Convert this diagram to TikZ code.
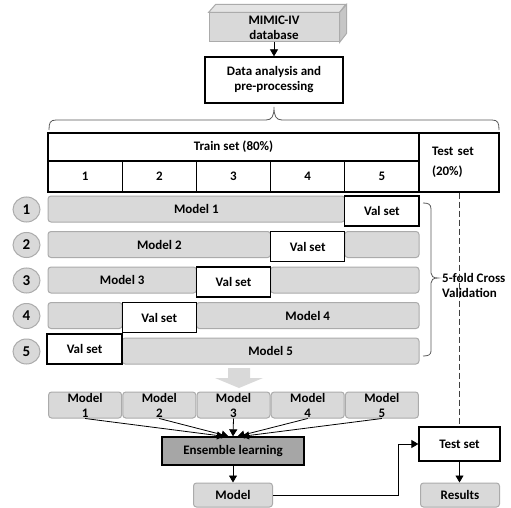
\documentclass[tikz,border=0pt]{standalone}
\usepackage{fontspec}
\setmainfont{Carlito}
\usetikzlibrary{arrows.meta,shapes.geometric}
\definecolor{gfill}{HTML}{D9D9D9}
\definecolor{gline}{HTML}{ABABAB}
\definecolor{efill}{HTML}{A6A6A6}
\definecolor{gtop}{HTML}{E4E4E4}
\definecolor{gside}{HTML}{C6C6C6}
\definecolor{brc}{HTML}{595959}
\begin{document}
\begin{tikzpicture}[x=1pt,y=-1pt,
  font=\fontsize{13}{15}\selectfont\bfseries,
  blk/.style={draw=black, line width=1.3pt, fill=white, inner sep=0pt, align=center},
  gry/.style={draw=gline, line width=1pt, fill=gfill, rounded corners=3pt, inner sep=0pt, align=center},
  circ/.style={ellipse, draw=gline, line width=1pt, fill=gfill, inner sep=0pt, minimum width=27pt, minimum height=25pt, font=\fontsize{15}{15}\selectfont\bfseries},
  ens/.style={draw=black, line width=1.3pt, fill=efill, inner sep=0pt, align=center},
  arr/.style={-{Triangle[length=7pt,width=8pt]}, line width=0.8pt},
  brace/.style={draw=brc, line width=0.8pt},
  dsh/.style={draw=black!75, line width=0.8pt, dash pattern=on 6pt off 3pt}
]
\useasboundingbox (0,0) rectangle (511,508);

% MIMIC-IV database (3D box)
\node[draw=gline, line width=1pt, fill=gfill, inner sep=0pt, align=center,
      minimum width=130pt, minimum height=29pt] (mimic) at (274,27.5) {MIMIC-IV\\database};
\filldraw[fill=gtop, draw=gline, line width=1pt] (mimic.north west) -- ++(7,-8) -- ++(130,0) -- (mimic.north east) -- cycle;
\filldraw[fill=gside, draw=gline, line width=1pt] (mimic.north east) -- ++(7,-8) -- ++(0,29) -- (mimic.south east) -- cycle;

\node[blk, minimum width=138pt, minimum height=46pt] (data) at (274,80) {Data analysis and\\pre-processing};
\draw[arr] (mimic.south) -- (data.north);

% top brace
\draw[brace] (49,130) .. controls (49,123) and (50,120) .. (56,120) -- (266,120)
  .. controls (272,120) and (274,116) .. (274,107)
  .. controls (274,116) and (276,120) .. (282,120) -- (492,120)
  .. controls (498,120) and (499,123) .. (499,130);

% train / folds / test
\node[blk, minimum width=371pt, minimum height=28pt] (train) at (233.5,147) {Train set (80\%)};
\foreach \k/\cx in {1/85.1,2/159.3,3/233.5,4/307.7,5/381.9}
  \node[blk, minimum width=74.2pt, minimum height=31pt] (f\k) at (\cx,176.5) {\k};
\node[blk, minimum width=80pt, minimum height=59pt, text width=54pt, align=left,
      font=\fontsize{13}{20}\selectfont\bfseries] (test0) at (459,162.5) {Test set\\(20\%)};

% fold circles
\foreach \k/\ty in {1/196,2/231.5,3/267,4/302.5,5/338}
  \node[circ] (c\k) at (26.5,\ty+13.5) {\k};

% row 1
\node[gry, minimum width=296.8pt, minimum height=26pt] (m1) at (196.4,209) {Model 1};
\node[blk, minimum width=74.2pt, minimum height=30pt] (v1) at (381.9,211) {Val set};
% row 2
\node[gry, minimum width=222.6pt, minimum height=26pt] (m2) at (159.3,244.5) {Model 2};
\node[gry, minimum width=74.2pt, minimum height=26pt] (r2) at (381.9,244.5) {};
\node[blk, minimum width=74.2pt, minimum height=30pt] (v2) at (307.7,246.5) {Val set};
% row 3
\node[gry, minimum width=148.4pt, minimum height=26pt] (m3) at (122.2,280) {Model 3};
\node[gry, minimum width=148.4pt, minimum height=26pt] (r3) at (344.8,280) {};
\node[blk, minimum width=74.2pt, minimum height=30pt] (v3) at (233.5,282) {Val set};
% row 4
\node[gry, minimum width=74.2pt, minimum height=26pt] (l4) at (85.1,315.5) {};
\node[gry, minimum width=222.6pt, minimum height=26pt] (m4) at (307.7,315.5) {Model 4};
\node[blk, minimum width=74.2pt, minimum height=30pt] (v4) at (159.3,317.5) {Val set};
% row 5
\node[gry, minimum width=296.8pt, minimum height=26pt] (m5) at (270.6,351) {Model 5};
\node[blk, minimum width=75pt, minimum height=30pt] (v5) at (84.6,349) {Val set};

% right brace
\draw[brace] (423,203) .. controls (428,203) and (431,204) .. (431,209) -- (431,273)
  .. controls (431,276) and (433,278) .. (438,278)
  .. controls (433,278) and (431,280) .. (431,283) -- (431,351)
  .. controls (431,355) and (428,356) .. (423,356);
\node[anchor=west, align=left, inner sep=0pt] (cv) at (442,285) {5-fold Cross\\Validation};

% big down arrow
\fill[gfill] (228,368) -- (250,368) -- (250,378) -- (263,378) -- (239,388) -- (215,378) -- (228,378) -- cycle;

% bottom model boxes
\foreach \k/\cx in {1/85.1,2/159.3,3/233.5,4/307.7,5/381.9}
  \node[gry, minimum width=73pt, minimum height=26pt] (k\k) at (\cx,405) {Model\\\k};

\node[ens, minimum width=142pt, minimum height=28pt] (ens) at (233,451) {Ensemble learning};
\foreach \k/\dx in {1/-9,2/-4.5,3/0,4/4.5,5/9}
  \draw[arr] (k\k.south) -- ([xshift=\dx pt]ens.north);

\node[gry, minimum width=79pt, minimum height=24pt] (fm) at (233,495) {Model};
\draw[arr] (ens.south) -- (fm.north);

\node[blk, minimum width=81pt, minimum height=34pt] (test1) at (459.5,444) {Test set};
\node[gry, minimum width=79pt, minimum height=24pt] (res) at (460,495) {Results};
\draw[arr] (fm.east) -- ++(125,0) |- (test1.west);
\draw[arr] (test1.south) -- (test1.south |- res.north);
\draw[dsh] (test0.south) -- (test0.south |- test1.north);
\end{tikzpicture}
\end{document}
